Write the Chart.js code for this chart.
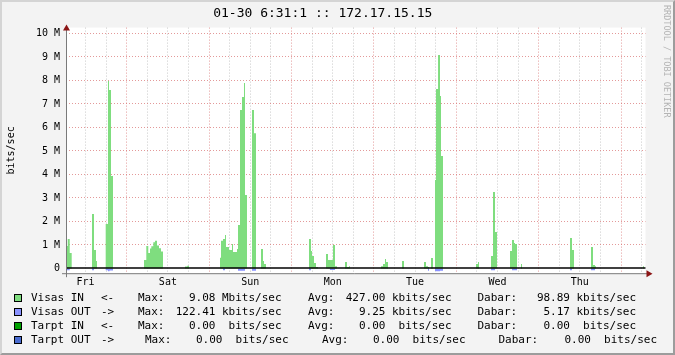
<!DOCTYPE html>
<html>
<head>
<meta charset="utf-8">
<script src="https://cdn.jsdelivr.net/npm/chart.js@4.4.1/dist/chart.umd.min.js"></script>
<style>
    html, body { margin: 0; padding: 0; }
    body {
        width: 675px;
        height: 355px;
        background: #f3f3f3;
        position: relative;
        overflow: hidden;
        font-family: "DejaVu Sans Mono", monospace;
    }
    canvas { position: absolute; left: 0; top: 0; }
    #frame {
        position: absolute;
        left: 0;
        top: 0;
        width: 675px;
        height: 355px;
        box-sizing: border-box;
        border: 2px solid;
        border-color: #d4d4d4 #9c9c9c #9c9c9c #d4d4d4;
        pointer-events: none;
    }
    .row {
        position: absolute;
        left: 0;
        width: 675px;
        height: 14px;
        line-height: 14px;
        font-size: 11px;
        color: #000;
        white-space: pre;
    }
    .row span { position: absolute; top: 0; }
    .row span.num { text-align: right; width: 60px; }
    .row .sw {
        position: absolute;
        left: 14px;
        top: 3px;
        width: 6px;
        height: 6px;
        border: 1px solid #000;
    }
    #credit {
        position: absolute;
        left: 662px;
        top: 5px;
        writing-mode: vertical-rl;
        font-size: 8.5px;
        color: #b4b4b4;
    }
</style>
</head>
<body>
<canvas id="trafficChart" width="675" height="355"></canvas>
<div id="credit">RRDTOOL / TOBI OETIKER</div>
<div id="legend"></div>
<div id="frame"></div>
<script>
// hours counted from Friday 00:00
const dayNames = ['Fri', 'Sat', 'Sun', 'Mon', 'Tue', 'Wed', 'Thu'];
const xStart = 6.32;
const xEnd = 175.12;

// Visas IN, Mbit/s, each value holds until the next time
const inTimes = [
    6.32, 6.82, 7.40, 7.98,
    13.89, 14.48, 15.06, 15.35,
    17.88, 18.55, 18.85, 19.43, 20.01,
    29.04, 29.71, 30.29, 30.79, 31.17, 31.75, 32.24, 32.83, 33.41, 33.99, 34.58,
    40.98, 41.65, 42.15,
    51.18, 51.47, 52.05, 52.64, 52.93, 53.80, 54.67, 54.97, 56.13, 56.42, 57.00, 57.59, 58.17, 58.46, 59.04,
    60.50, 61.08, 61.66,
    63.12, 63.70, 63.99, 64.58,
    77.10, 77.69, 77.98, 78.56, 79.14, 79.73,
    82.06, 82.64, 84.09, 84.68, 85.26,
    87.59, 88.17, 88.75, 89.05,
    98.08, 98.66, 99.24, 99.53, 100.12,
    104.19, 104.78,
    110.60, 111.18, 111.77, 112.06, 112.64, 113.22,
    113.81, 114.10, 114.69, 115.26, 115.55, 116.14,
    125.75, 126.33, 126.62,
    130.12, 130.70, 131.28, 131.87,
    135.65, 136.24, 136.82, 137.11, 137.69,
    138.86, 139.15,
    153.13, 153.71, 154.30,
    159.25, 159.83, 160.41, 160.70,
    174.39, 174.69
];
const inValues = [
    0.96, 1.26, 0.66, 0,
    2.32, 0.79, 0.32, 0,
    1.89, 7.98, 7.60, 3.94, 0,
    0.36, 0.96, 0.66, 0.85, 0.95, 1.12, 1.18, 0.98, 0.86, 0.72, 0,
    0.08, 0.12, 0,
    0.46, 1.18, 1.25, 1.43, 0.91, 0.79, 1.04, 0.70, 0.83, 1.85, 6.74, 7.30, 7.89, 3.13, 0,
    6.74, 5.76, 0,
    0.83, 0.32, 0.19, 0,
    1.26, 0.74, 0.53, 0.23, 0.06, 0,
    0.62, 0.36, 1.00, 0.10, 0,
    0.28, 0.06, 0.10, 0,
    0.10, 0.19, 0.40, 0.28, 0,
    0.32, 0,
    0.28, 0.10, 0.06, 0, 0.45, 0,
    3.77, 7.64, 9.08, 7.34, 4.79, 0,
    0.19, 0.28, 0,
    0.53, 3.26, 1.55, 0,
    0.74, 1.21, 1.09, 1.04, 0,
    0.19, 0,
    1.30, 0.79, 0,
    0.91, 0.15, 0.10, 0,
    0.10, 0
];

// Visas OUT, Mbit/s (drawn below zero)
const outTimes = [
    6.32, 7.40,
    13.89, 14.48,
    17.88, 18.55, 19.00, 20.01,
    52.05, 52.64,
    56.42, 58.46,
    60.50, 61.66,
    77.10, 77.69,
    83.20, 84.68,
    111.77, 112.06,
    113.81, 114.10, 115.26, 116.14,
    130.12, 131.28,
    136.24, 137.69,
    153.13, 153.71,
    159.25, 160.41
];
const outValues = [
    0.07, 0,
    0.07, 0,
    0.07, 0.12, 0.09, 0,
    0.07, 0,
    0.10, 0,
    0.10, 0,
    0.07, 0,
    0.06, 0,
    0.10, 0,
    0.11, 0.12, 0.10, 0,
    0.07, 0,
    0.07, 0,
    0.07, 0,
    0.07, 0
];

// legend
const legendNames = ['Visas IN', 'Visas OUT', 'Tarpt IN', 'Tarpt OUT'];
const legendArrows = ['<-', '->', '<-', '->'];
const legendColors = ['#7fdd7f', '#8a92ff', '#00a000', '#4a6cd0'];
const legendMax = ['9.08', '122.41', '0.00', '0.00'];
const legendMaxUnit = ['Mbits/sec', 'kbits/sec', ' bits/sec', ' bits/sec'];
const legendAvg = ['427.00', '9.25', '0.00', '0.00'];
const legendAvgUnit = ['kbits/sec', 'kbits/sec', ' bits/sec', ' bits/sec'];
const legendCur = ['98.89', '5.17', '0.00', '0.00'];
const legendCurUnit = ['kbits/sec', 'kbits/sec', ' bits/sec', ' bits/sec'];

const toPoints = (times, values, sign) => times.map((t, i) => ({ x: t, y: sign * values[i] }));

const redGrid = 'rgba(215, 110, 110, 0.7)';
const grayGrid = 'rgba(165, 165, 165, 0.6)';

const plotDecor = {
    id: 'plotDecor',
    beforeDraw(chart) {
        const { ctx, chartArea: a } = chart;
        ctx.save();
        ctx.fillStyle = '#ffffff';
        ctx.fillRect(a.left, a.top, a.right - a.left, a.bottom - a.top);
        ctx.restore();
    },
    afterDatasetsDraw(chart) {
        const { ctx, chartArea: a, scales } = chart;
        const y0 = scales.y.getPixelForValue(0);
        ctx.save();
        ctx.strokeStyle = '#000';
        ctx.lineWidth = 1.5;
        ctx.beginPath();
        ctx.moveTo(a.left, y0 - 0.4);
        ctx.lineTo(a.right, y0 - 0.4);
        ctx.stroke();

        ctx.strokeStyle = '#7a7a7a';
        ctx.lineWidth = 1;
        ctx.beginPath();
        ctx.moveTo(a.left + 0.5, a.top - 1);
        ctx.lineTo(a.left + 0.5, a.bottom + 4);
        ctx.moveTo(a.left - 4, a.bottom + 0.5);
        ctx.lineTo(a.right + 2, a.bottom + 0.5);
        ctx.stroke();

        ctx.fillStyle = '#8b1414';
        ctx.beginPath();
        ctx.moveTo(a.left + 0.5, a.top - 3);
        ctx.lineTo(a.left - 3, a.top + 3);
        ctx.lineTo(a.left + 4, a.top + 3);
        ctx.closePath();
        ctx.fill();
        ctx.beginPath();
        ctx.moveTo(a.right + 7, a.bottom + 0.5);
        ctx.lineTo(a.right + 1, a.bottom - 3);
        ctx.lineTo(a.right + 1, a.bottom + 4);
        ctx.closePath();
        ctx.fill();
        ctx.restore();
    },
};

new Chart(document.getElementById('trafficChart'), {
    type: 'line',
    data: {
        datasets: [
            {
                label: 'Visas IN',
                data: toPoints(inTimes, inValues, 1),
                stepped: true,
                fill: 'origin',
                backgroundColor: legendColors[0],
                borderColor: 'rgba(0,0,0,0)',
                borderWidth: 0,
                pointRadius: 0,
            },
            {
                label: 'Visas OUT',
                data: toPoints(outTimes, outValues, -1),
                stepped: true,
                fill: 'origin',
                backgroundColor: legendColors[1],
                borderColor: 'rgba(0,0,0,0)',
                borderWidth: 0,
                pointRadius: 0,
            },
        ],
    },
    options: {
        responsive: false,
        animation: false,
        devicePixelRatio: 1,
        layout: {
            autoPadding: false,
            padding: { left: 0, right: 29.5, top: 0, bottom: 61.8 },
        },
        plugins: {
            legend: { display: false },
            tooltip: { enabled: false },
            title: {
                display: true,
                text: '01-30 6:31:1 :: 172.17.15.15',
                color: '#000',
                font: { family: 'DejaVu Sans Mono', size: 13, weight: 'normal' },
                padding: { top: 6, bottom: 6 },
            },
        },
        scales: {
            x: {
                type: 'linear',
                min: xStart,
                max: xEnd,
                afterBuildTicks: (scale) => {
                    const ticks = [];
                    for (let h = 12; h <= 174; h += 6) ticks.push({ value: h });
                    scale.ticks = ticks;
                },
                afterFit: (scale) => { scale.height = 20; },
                grid: {
                    drawTicks: false,
                    color: (ctx) => (ctx.tick.value % 24 === 0 ? redGrid : grayGrid),
                },
                border: { display: false, dash: [1, 2] },
                ticks: {
                    autoSkip: false,
                    maxRotation: 0,
                    padding: 3,
                    color: '#000',
                    font: { family: 'DejaVu Sans Mono', size: 10 },
                    callback: (value) => (value % 24 === 12 ? dayNames[(value - 12) / 24] : ''),
                },
            },
            y: {
                min: -0.2,
                max: 10.25,
                afterBuildTicks: (scale) => {
                    const ticks = [];
                    for (let v = 0; v <= 10; v += 0.5) ticks.push({ value: v });
                    scale.ticks = ticks;
                },
                afterFit: (scale) => { scale.width = 66; },
                grid: {
                    drawTicks: false,
                    color: (ctx) => {
                        const v = ctx.tick.value;
                        if (v === 0) return 'rgba(0,0,0,0)';
                        return v % 1 === 0 ? redGrid : grayGrid;
                    },
                },
                border: { display: false, dash: [1, 2] },
                title: {
                    display: true,
                    text: 'bits/sec',
                    color: '#000',
                    font: { family: 'DejaVu Sans Mono', size: 10 },
                    padding: { top: 5, bottom: 0 },
                },
                ticks: {
                    padding: 6,
                    color: '#000',
                    font: { family: 'DejaVu Sans Mono', size: 10 },
                    callback: (value) => {
                        if (value % 1 !== 0) return '';
                        return value === 0 ? '0' : value + ' M';
                    },
                },
            },
        },
    },
    plugins: [plotDecor],
});

// legend rows, laid out like the rrdtool columns
const legendEl = document.getElementById('legend');
const rowTops = [291, 305, 319, 333];
const rowShifts = [[0, 0, 0], [0, 0, 0], [0, 0, 0], [7, 14, 21]];

const addSpan = (row, text, left, isNum) => {
    const span = document.createElement('span');
    span.textContent = text;
    if (isNum) {
        span.className = 'num';
        span.style.left = (left - 60) + 'px';
    } else {
        span.style.left = left + 'px';
    }
    row.appendChild(span);
};

legendNames.forEach((name, i) => {
    const row = document.createElement('div');
    row.className = 'row';
    row.style.top = rowTops[i] + 'px';
    const sw = document.createElement('div');
    sw.className = 'sw';
    sw.style.background = legendColors[i];
    row.appendChild(sw);
    const [s0, s1, s2] = rowShifts[i];
    addSpan(row, name, 31);
    addSpan(row, legendArrows[i], 101);
    addSpan(row, 'Max:', 138 + s0);
    addSpan(row, legendMax[i], 215.5 + s0, true);
    addSpan(row, legendMaxUnit[i], 222 + s0);
    addSpan(row, 'Avg:', 308 + s1);
    addSpan(row, legendAvg[i], 385.5 + s1, true);
    addSpan(row, legendAvgUnit[i], 392 + s1);
    addSpan(row, 'Dabar:', 477.5 + s2);
    addSpan(row, legendCur[i], 570 + s2, true);
    addSpan(row, legendCurUnit[i], 576.5 + s2);
    legendEl.appendChild(row);
});
</script>
</body>
</html>
